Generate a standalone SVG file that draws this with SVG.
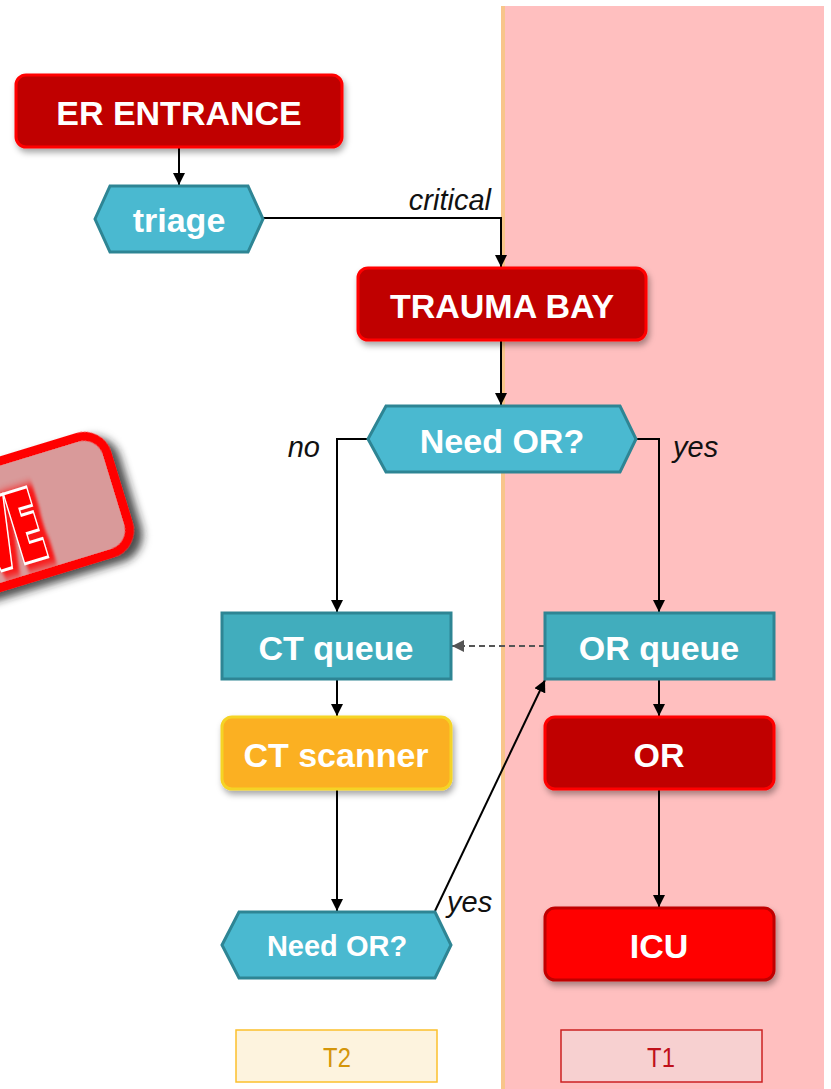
<svg xmlns="http://www.w3.org/2000/svg" width="831" height="1089" viewBox="0 0 831 1089">
<defs>
<style>
.lbl{font-family:"Liberation Sans",Arial,sans-serif;font-weight:bold;fill:#fff;text-anchor:middle;dominant-baseline:central}
.it{font-family:"Liberation Sans",Arial,sans-serif;font-style:italic;font-size:29px;fill:#111}
.hex{fill:#4ab9d0;stroke:#2e8594;stroke-width:3}
.q{fill:#41adbd;stroke:#2e8594;stroke-width:3}
.red{fill:#c00000;stroke:#ff0000;stroke-width:3}
.edge{fill:none;stroke:#000;stroke-width:2}
.tag{font-family:"Liberation Sans",Arial,sans-serif;font-size:28px;text-anchor:middle}
.bt{font-family:"DejaVu Sans",Arial,sans-serif;font-weight:bold;font-size:92px;text-anchor:end}
</style>
<marker id="ah" viewBox="0 0 12 12" refX="12" refY="6" markerWidth="12" markerHeight="12" markerUnits="userSpaceOnUse" orient="auto">
<path d="M0,0 L12,6 L0,12 z" fill="#000"/>
</marker>
<marker id="ahg" viewBox="0 0 12 12" refX="12" refY="6" markerWidth="12" markerHeight="12" markerUnits="userSpaceOnUse" orient="auto">
<path d="M0,0 L12,6 L0,12 z" fill="#555"/>
</marker>
<filter id="sh" x="-20%" y="-30%" width="140%" height="170%">
<feDropShadow dx="2" dy="4" stdDeviation="3" flood-color="#000" flood-opacity="0.35"/>
</filter>
<filter id="bsh" x="-30%" y="-30%" width="160%" height="160%">
<feDropShadow dx="7" dy="7" stdDeviation="4" flood-color="#222" flood-opacity="0.8"/>
</filter>
<filter id="glow" x="-30%" y="-30%" width="160%" height="160%">
<feGaussianBlur stdDeviation="4"/>
</filter>
</defs>

<rect id="lane-bg" x="501" y="6" width="323" height="1083" fill="#ffbfbf"/>
<rect x="501" y="6" width="4" height="1083" fill="#f8c58a"/>

<g id="badge" transform="translate(122,487) rotate(-17)">
<rect x="-305.5" y="-60.5" width="301" height="121" rx="24" fill="#d99a9a" stroke="#ff0000" stroke-width="9" filter="url(#bsh)"/>
<g transform="translate(-89,42) scale(0.46,1)">
<text class="bt" x="8" y="4" fill="#ff0000" stroke="#ff0000" stroke-width="16" filter="url(#glow)" opacity="0.85">LIVE</text>
<text class="bt" x="0" y="0" fill="#ff0000" stroke="#fff" stroke-width="9">LIVE</text>
<text class="bt" x="0" y="0" fill="#ff0000" stroke="#ff0000" stroke-width="3">LIVE</text>
</g>
</g>

<g id="connectors">
<line class="edge" x1="179" y1="147" x2="179" y2="185" marker-end="url(#ah)"/>
<polyline class="edge" points="263,218 501,218 501,267" marker-end="url(#ah)"/>
<text class="it" x="491" y="210" text-anchor="end">critical</text>
<line class="edge" x1="501" y1="340" x2="501" y2="405" marker-end="url(#ah)"/>
<polyline class="edge" points="368,439 337,439 337,612" marker-end="url(#ah)"/>
<text class="it" x="320" y="457" text-anchor="end">no</text>
<polyline class="edge" points="636,439 659,439 659,612" marker-end="url(#ah)"/>
<text class="it" x="673" y="457">yes</text>
<line x1="545" y1="646" x2="452" y2="646" stroke="#555" stroke-width="2" stroke-dasharray="6,4" marker-end="url(#ahg)"/>
<line class="edge" x1="337" y1="679" x2="337" y2="716" marker-end="url(#ah)"/>
<line class="edge" x1="659" y1="679" x2="659" y2="716" marker-end="url(#ah)"/>
<line class="edge" x1="337" y1="789" x2="337" y2="911" marker-end="url(#ah)"/>
<line class="edge" x1="659" y1="789" x2="659" y2="907" marker-end="url(#ah)"/>
<line class="edge" x1="435" y1="911" x2="545" y2="680" marker-end="url(#ah)"/>
<text class="it" x="447" y="912">yes</text>
</g>

<g id="er-entrance">
<rect class="red" x="16" y="75" width="326" height="72" rx="10" filter="url(#sh)"/>
<text class="lbl" x="179" y="113" font-size="34">ER ENTRANCE</text>
</g>

<g id="triage">
<polygon class="hex" points="95,219 110,186 248,186 263,219 248,252 110,252"/>
<text class="lbl" x="179" y="220" font-size="34">triage</text>
</g>

<g id="trauma-bay">
<rect class="red" x="358" y="268" width="288" height="72" rx="10" filter="url(#sh)"/>
<text class="lbl" x="502" y="306" font-size="34">TRAUMA BAY</text>
</g>

<g id="need-or-1">
<polygon class="hex" points="368,439 386,406 620,406 636,439 620,472 386,472"/>
<text class="lbl" x="502" y="441" font-size="34">Need OR?</text>
</g>

<g id="ct-queue">
<rect class="q" x="222" y="613" width="229" height="66"/>
<text class="lbl" x="336" y="648" font-size="34">CT queue</text>
</g>

<g id="or-queue">
<rect class="q" x="545" y="613" width="229" height="66"/>
<text class="lbl" x="659" y="648" font-size="34">OR queue</text>
</g>

<g id="ct-scanner">
<rect x="222" y="717" width="229" height="72" rx="10" fill="#fbb020" stroke="#f5d327" stroke-width="3" filter="url(#sh)"/>
<text class="lbl" x="336" y="755" font-size="34">CT scanner</text>
</g>

<g id="or">
<rect class="red" x="545" y="717" width="229" height="72" rx="10" filter="url(#sh)"/>
<text class="lbl" x="659" y="755" font-size="34">OR</text>
</g>

<g id="need-or-2">
<polygon class="hex" points="222,945 239,912 435,912 451,945 435,978 239,978"/>
<text class="lbl" x="337" y="946" font-size="29">Need OR?</text>
</g>

<g id="icu">
<rect x="545" y="908" width="229" height="72" rx="10" fill="#ff0000" stroke="#c00000" stroke-width="3" filter="url(#sh)"/>
<text class="lbl" x="659" y="946" font-size="34">ICU</text>
</g>

<g id="t2">
<rect x="236" y="1030" width="201" height="52" fill="#fdf3de" stroke="#fbc02d" stroke-width="1.5"/>
<text class="tag" transform="translate(337,1067) scale(0.85,1)" fill="#d4950a">T2</text>
</g>

<g id="t1">
<rect x="561" y="1030" width="201" height="52" fill="#f7d0d0" stroke="#cc2222" stroke-width="1.5"/>
<text class="tag" transform="translate(661,1067) scale(0.85,1)" fill="#c0101a">T1</text>
</g>
</svg>
